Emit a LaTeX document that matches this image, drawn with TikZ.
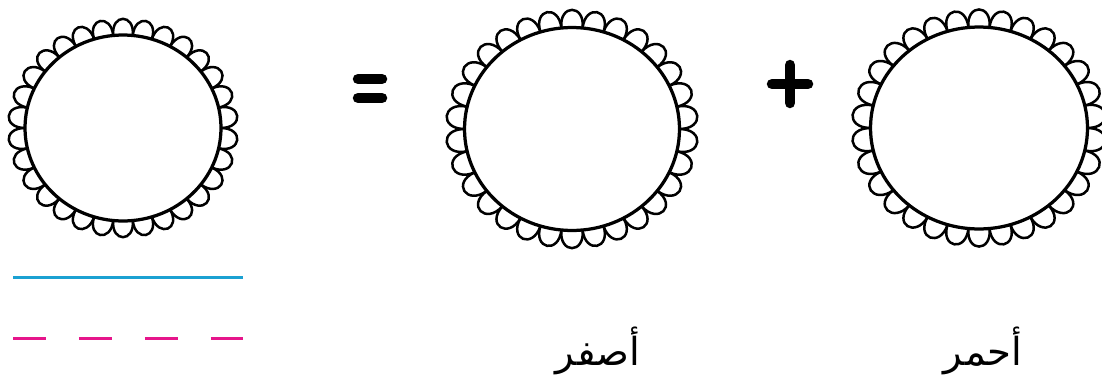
\documentclass[tikz,border=0pt]{standalone}
\usepackage{fontspec}
\newfontfamily\arabicfont[Script=Arabic]{DejaVu Sans}
\TeXXeTstate=1
\usetikzlibrary{shapes.geometric, calc}
\definecolor{lineblue}{HTML}{1BA1D2}
\definecolor{linepink}{HTML}{E6158B}
\begin{document}
\begin{tikzpicture}[
        x=0.02cm, y=-0.02cm,
        circ/.style={ellipse, draw=black, line width=0.065cm, inner sep=0pt, outer sep=0pt},
        scallop/.style={draw=black, line width=0.05cm},
        sign/.style={line width=0.21cm, line cap=round},
        lbl/.style={font=\fontsize{22}{24}\selectfont\arabicfont, anchor=base, inner sep=0pt}
    ]
        \useasboundingbox (0,0) rectangle (1102,382);
        \node[circ, minimum width=3.92cm, minimum height=3.72cm] (whole) at (123,128) {};
        \node[circ, minimum width=4.3cm, minimum height=4.06cm] (yellow) at (572,129) {};
        \node[circ, minimum width=4.34cm, minimum height=4.04cm] (red) at (979,128) {};
        \foreach \c in {whole, yellow, red} {
            \foreach \a in {0,12,...,348} {
                \pgfmathtruncatemacro\b{\a+12}
                \draw[scallop] (\c.\a) .. controls ($(\c.center)!1.24!(\c.\a)$) and ($(\c.center)!1.24!(\c.\b)$) .. (\c.\b);
            }
        }
        \draw[sign] (358,79) -- (382,79);
        \draw[sign] (358,98) -- (382,98);
        \draw[sign] (772,84) -- (808,84);
        \draw[sign] (790,65) -- (790,103);
        \coordinate (blueL) at (13,277);
        \coordinate (blueR) at (243,277);
        \coordinate (pinkL) at (13,338);
        \coordinate (pinkR) at (243,338);
        \draw[lineblue, line width=0.06cm] (blueL) -- (blueR);
        \draw[linepink, line width=0.06cm, dash pattern=on 0.66cm off 0.66cm] (pinkL) -- (pinkR);
        \node[lbl] (yellowtxt) at (598,365) {\beginR أصفر\endR};
        \node[lbl] (redtxt) at (983,365) {\beginR أحمر\endR};
\end{tikzpicture}
\end{document}
